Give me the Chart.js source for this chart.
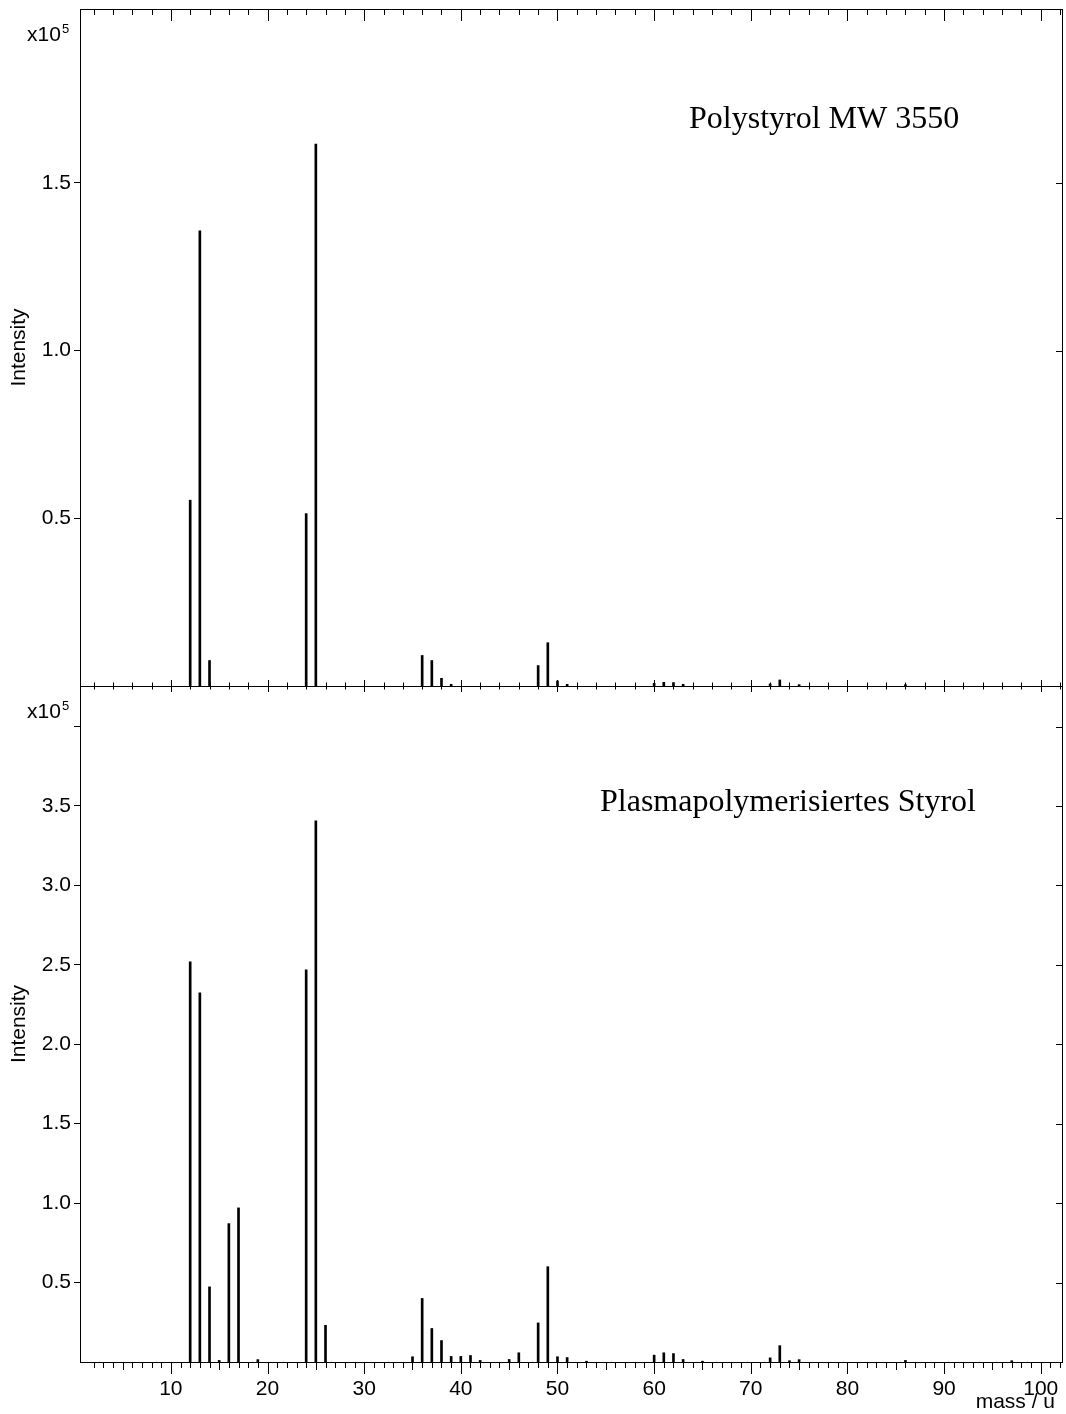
<!DOCTYPE html>
<html>
<head>
<meta charset="utf-8">
<script src="https://cdn.jsdelivr.net/npm/chart.js@4"></script>
<style>
body{margin:0;background:#fff;}
#wrap{position:relative;width:1066px;height:1414px;}
canvas{position:absolute;left:0;}
#c1{top:0;}
#c2{top:680px;}
</style>
</head>
<body>
<div id="wrap">
<canvas id="c1" width="1066" height="700"></canvas>
<canvas id="c2" width="1066" height="734"></canvas>
</div>
<script>
// Polystyrol MW 3550 (top panel)
const topMass = [12, 13, 14, 24, 25, 36, 37, 38, 39, 48, 49, 50, 51, 60, 61, 62, 63, 72, 73, 75, 86];
const topIntensity = [55400, 135700, 7600, 51400, 161600, 9100, 7600, 2300, 500, 6100, 12900, 1500, 500, 800, 1100, 1000, 500, 600, 1800, 400, 400];

// Plasmapolymerisiertes Styrol (bottom panel)
const botMass = [12, 13, 14, 15, 16, 17, 19, 24, 25, 26, 35, 36, 37, 38, 39, 40, 41, 42, 45, 46, 48, 49, 50, 51, 53, 60, 61, 62, 63, 65, 72, 73, 74, 75, 86, 97];
const botIntensity = [251900, 232400, 47300, 1000, 87100, 97000, 1500, 246900, 340600, 23100, 3300, 40000, 21100, 13500, 3500, 3500, 4100, 1000, 1600, 5800, 24600, 60000, 3300, 2800, 500, 4300, 5800, 5300, 1600, 500, 2600, 10300, 800, 1500, 1000, 800];

const topTicks = [50000, 100000, 150000];
const botTicks = [50000, 100000, 150000, 200000, 250000, 300000, 350000, 400000];
const massTicks = [10, 20, 30, 40, 50, 60, 70, 80, 90, 100];

const FONT = 'Liberation Sans, Arial, sans-serif';

// frame, inner ticks and extra texts
const deco = {
  id: 'deco',
  afterDraw(chart, args, o) {
    const {ctx, chartArea: a} = chart;
    const x = chart.scales.x, y = chart.scales.y;
    ctx.save();
    ctx.strokeStyle = '#000';
    ctx.lineWidth = 1;
    ctx.strokeRect(a.left + 0.5, a.top + 0.5, a.right - a.left - 1, a.bottom - a.top);
    ctx.beginPath();
    // right side ticks, inward
    y.ticks.forEach(t => {
      const py = Math.round(y.getPixelForValue(t.value)) + 0.5;
      ctx.moveTo(a.right - 7, py); ctx.lineTo(a.right, py);
    });
    if (o.panel === 'top') {
      for (let m = 2; m <= 102; m += 2) {
        const px = Math.round(x.getPixelForValue(m)) + 0.5;
        const major = m % 10 === 0;
        // top edge, pointing down
        ctx.moveTo(px, a.top); ctx.lineTo(px, a.top + (major ? 12 : 6));
        // middle line, crossing
        const h = major ? 6 : 3.5;
        ctx.moveTo(px, a.bottom - h); ctx.lineTo(px, a.bottom + h);
      }
    } else {
      for (let m = 2; m <= 102; m += 1) {
        const px = Math.round(x.getPixelForValue(m)) + 0.5;
        const len = m % 10 === 0 ? 12 : (m % 5 === 0 ? 8 : 6);
        ctx.moveTo(px, a.bottom); ctx.lineTo(px, a.bottom + len);
      }
    }
    ctx.stroke();

    ctx.fillStyle = '#000';
    ctx.textBaseline = 'middle';
    ctx.textAlign = 'left';
    ctx.font = '21px ' + FONT;
    ctx.fillText('x10', 27, a.top + 26);
    ctx.font = '13px ' + FONT;
    ctx.fillText('5', 62, a.top + 20);

    ctx.textBaseline = 'alphabetic';
    ctx.font = '32px Liberation Serif, Times New Roman, serif';
    ctx.fillText(o.title, o.tx, o.ty);

    if (o.panel === 'bottom') {
      ctx.font = '21px ' + FONT;
      ctx.textAlign = 'right';
      ctx.textBaseline = 'middle';
      ctx.fillText('mass / u', 1055, a.bottom + 40);
    }
    ctx.restore();
  }
};

function makeChart(id, masses, values, yMax, yTicks, panel, title, tx, ty, pad, xShow) {
  return new Chart(document.getElementById(id), {
    type: 'bar',
    data: {
      datasets: [{
        data: masses.map((m, i) => ({x: m, y: values[i]})),
        backgroundColor: '#000',
        borderWidth: 0,
        barThickness: 2
      }]
    },
    options: {
      responsive: false,
      animation: false,
      layout: {padding: pad},
      plugins: {
        legend: {display: false},
        tooltip: {enabled: false},
        deco: {panel: panel, title: title, tx: tx, ty: ty}
      },
      scales: {
        x: {
          type: 'linear',
          min: 0.6,
          max: 102.3,
          offset: false,
          display: xShow,
          grid: {display: false},
          border: {display: false},
          afterBuildTicks: s => { s.ticks = massTicks.map(v => ({value: v})); },
          afterFit: s => {
            s.height = xShow ? 52 : 0;
            s.paddingLeft = 0; s.paddingRight = 0;
          },
          ticks: {
            autoSkip: false,
            maxRotation: 0,
            padding: 7,
            color: '#000',
            font: {family: FONT, size: 21},
            callback: v => v
          }
        },
        y: {
          min: 0,
          max: yMax,
          border: {display: false},
          grid: {drawOnChartArea: false, drawTicks: true, tickLength: 6, color: '#000'},
          afterBuildTicks: s => { s.ticks = yTicks.map(v => ({value: v})); },
          afterFit: s => {
            s.width = 80;
            s.paddingTop = 0; s.paddingBottom = 0;
          },
          title: {
            display: true,
            text: 'Intensity',
            color: '#000',
            font: {family: FONT, size: 21},
            padding: {top: 7, bottom: 0}
          },
          ticks: {
            padding: 3,
            color: '#000',
            font: {family: FONT, size: 21},
            callback: v => (v >= 400000 ? '' : (v / 100000).toFixed(1))
          }
        }
      }
    },
    plugins: [deco]
  });
}

makeChart('c1', topMass, topIntensity, 201850, topTicks, 'top',
  'Polystyrol MW 3550', 689, 128, {top: 9, bottom: 14, left: 0, right: 3}, false);
makeChart('c2', botMass, botIntensity, 425500, botTicks, 'bottom',
  'Plasmapolymerisiertes Styrol', 600, 131, {top: 6, bottom: 0, left: 0, right: 3}, true);
</script>
</body>
</html>
